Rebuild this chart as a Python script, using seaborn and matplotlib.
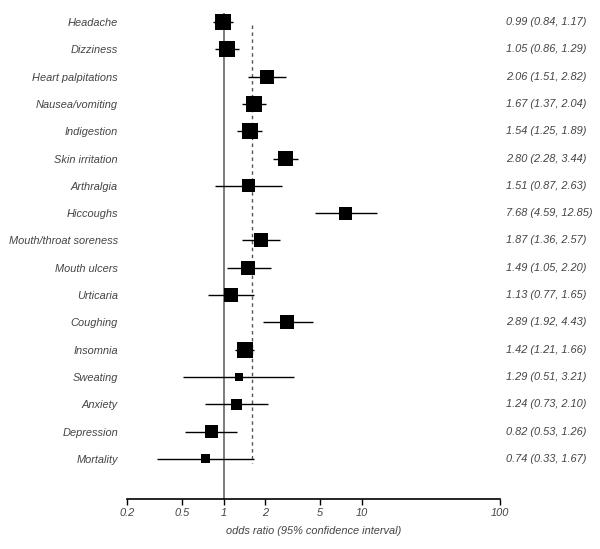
import matplotlib
matplotlib.use("Agg")
import matplotlib.pyplot as plt
import matplotlib.transforms as mtransforms
import seaborn as sns
import pandas as pd

# --- data ---
outcomes = [
    "Headache", "Dizziness", "Heart palpitations", "Nausea/vomiting",
    "Indigestion", "Skin irritation", "Arthralgia", "Hiccoughs",
    "Mouth/throat soreness", "Mouth ulcers", "Urticaria", "Coughing",
    "Insomnia", "Sweating", "Anxiety", "Depression", "Mortality",
]
odds_ratio = [0.99, 1.05, 2.06, 1.67, 1.54, 2.80, 1.51, 7.68, 1.87,
              1.49, 1.13, 2.89, 1.42, 1.29, 1.24, 0.82, 0.74]
ci_low = [0.84, 0.86, 1.51, 1.37, 1.25, 2.28, 0.87, 4.59, 1.36,
          1.05, 0.77, 1.92, 1.21, 0.51, 0.73, 0.53, 0.33]
ci_high = [1.17, 1.29, 2.82, 2.04, 1.89, 3.44, 2.63, 12.85, 2.57,
           2.20, 1.65, 4.43, 1.66, 3.21, 2.10, 1.26, 1.67]
# relative weight of each estimate (box side in pixels)
box_weight = [16, 16, 14, 16, 16, 15, 13, 13, 14, 14, 14, 14, 16, 8, 11, 13, 9]
pooled_or = 1.60
x_ticks = [0.2, 0.5, 1, 2, 5, 10, 100]
x_tick_labels = ["0.2", "0.5", "1", "2", "5", "10", "100"]

df = pd.DataFrame({"outcome": outcomes, "or": odds_ratio,
                   "lo": ci_low, "hi": ci_high, "w": box_weight})
# box side in points -> marker area
df["area"] = (df["w"] * 0.72) ** 2

sns.set_style("white")
plt.rcParams["font.family"] = ["Liberation Sans", "DejaVu Sans"]
text_col = "#444444"
fs = 7.9

fig = plt.figure(figsize=(6, 5.49), dpi=100)
ax = fig.add_axes([127 / 600, 50 / 549, 373 / 600, 486 / 549])

# reference line at OR = 1 and pooled estimate
ax.axvline(1, color="#666666", lw=1.2, zorder=1)
n = len(outcomes)
ax.vlines(pooled_or, 0.1, n - 1 + 0.15, color="#555555", lw=1,
          linestyles=(0, (2.5, 2.5)), zorder=1)

# confidence intervals
ax.hlines(df["outcome"], df["lo"], df["hi"], color="black", lw=1, zorder=2)

# point estimates
sns.scatterplot(data=df, x="or", y="outcome", marker="s", s=df["area"],
                color="black", edgecolor="black", linewidth=0,
                legend=False, ax=ax, zorder=3)

ax.set_xscale("log")
ax.set_xlim(0.2, 100)
ax.set_ylim(n - 1 + 1.47, -0.33)

ax.set_xticks(x_ticks)
ax.set_xticklabels(x_tick_labels, fontstyle="italic", fontsize=fs, color=text_col)
ax.xaxis.set_minor_locator(matplotlib.ticker.NullLocator())
ax.tick_params(axis="x", direction="out", length=4.5, width=1, color="black", pad=2,
               bottom=True)
ax.tick_params(axis="y", length=0, pad=6.5)
for lab in ax.get_yticklabels():
    lab.set_fontstyle("italic")
    lab.set_fontsize(fs)
    lab.set_color(text_col)

ax.set_xlabel("odds ratio (95% confidence interval)", fontstyle="italic",
              fontsize=fs, color=text_col, labelpad=6)
ax.set_ylabel("")

for side in ["top", "right", "left"]:
    ax.spines[side].set_visible(False)
ax.spines["bottom"].set_color("black")
ax.spines["bottom"].set_linewidth(1.2)

# estimate text on the right
trans = mtransforms.blended_transform_factory(ax.transAxes, ax.transData)
for i, row in df.iterrows():
    ax.text(1.016, i, f"{row['or']:.2f} ({row['lo']:.2f}, {row['hi']:.2f})",
            transform=trans, ha="left", va="center", fontstyle="italic",
            fontsize=fs, color=text_col)

fig.savefig("out.png", dpi=100)
